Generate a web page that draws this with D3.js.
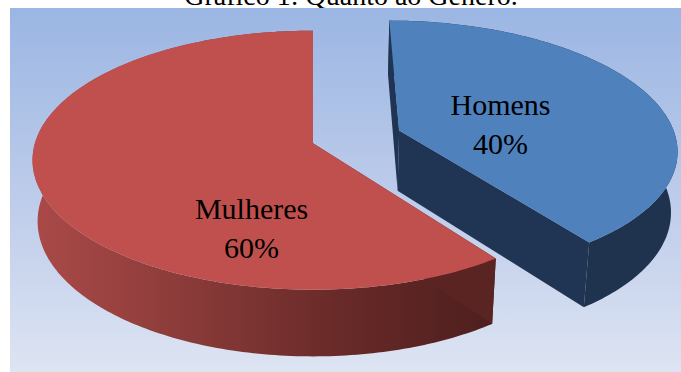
<!DOCTYPE html>
<html>
<head>
<meta charset="utf-8">
<script src="https://cdn.jsdelivr.net/npm/d3@7"></script>
<style>
  html, body { margin: 0; padding: 0; background: #ffffff; }
  svg { display: block; }
</style>
</head>
<body>
<script>
// Chart data
const categories = ["Homens", "Mulheres"];
const values = [40, 60];
const percentLabels = ["40%", "60%"];
const title = "Gráfico 1: Quanto ao Gênero.";

const W = 681, H = 372;
const svg = d3.select("body").append("svg").attr("width", W).attr("height", H);
const defs = svg.append("defs");

// Plot-area background gradient
const bg = defs.append("linearGradient").attr("id", "bg")
  .attr("x1", 0).attr("y1", 0).attr("x2", 0).attr("y2", 1);
bg.append("stop").attr("offset", 0).attr("stop-color", "#9bb6e3");
bg.append("stop").attr("offset", 0.5).attr("stop-color", "#bccbea");
bg.append("stop").attr("offset", 1).attr("stop-color", "#dde4f3");

// Side-wall shading for the red slice (light on the left, dark on the right)
const redSide = defs.append("linearGradient").attr("id", "redSide")
  .attr("gradientUnits", "userSpaceOnUse")
  .attr("x1", 30).attr("y1", 0).attr("x2", 490).attr("y2", 0);
redSide.append("stop").attr("offset", 0).attr("stop-color", "#ab4a48");
redSide.append("stop").attr("offset", 0.3).attr("stop-color", "#8e3d3b");
redSide.append("stop").attr("offset", 0.65).attr("stop-color", "#6a2b29");
redSide.append("stop").attr("offset", 1).attr("stop-color", "#4e1f1e");

// Title (sits above the plot area, mostly hidden by it)
svg.append("text")
  .attr("x", 351).attr("y", 5)
  .attr("text-anchor", "middle")
  .attr("font-family", "'Liberation Serif', 'Times New Roman', serif")
  .attr("font-size", 28)
  .attr("fill", "#000")
  .text(title);

svg.append("rect").attr("x", 10).attr("y", 8).attr("width", W - 10).attr("height", H - 8)
  .attr("fill", "url(#bg)");

// Perspective camera for the 3D pie
const cam = { cx: 313, cy: 204, f: 1860, D: 6.81, phi: 29.1 * Math.PI / 180 };
const thick = 0.25;
const sinP = Math.sin(cam.phi), cosP = Math.cos(cam.phi);
function project(x, y, z) {
  const d = cam.D - (y * sinP + z * cosP);
  const v = y * cosP - z * sinP;
  return [cam.cx + cam.f * x / d, cam.cy - cam.f * v / d];
}

const styles = {
  Homens:   { top: "#4f81bd", side: "#1f324e", radial: "#203553", explode: 0.33,
              labelR: 0.4, labelDy: 0 },
  Mulheres: { top: "#c0504d", side: "url(#redSide)", radial: "#5a2422", explode: 0,
              labelR: 0.23, labelDy: 67 }
};

const pie = d3.pie().sort(null).value(d => d.value).startAngle(0).endAngle(2 * Math.PI);
const data = categories.map((c, i) => ({ name: c, value: values[i], pct: percentLabels[i] }));
const arcs = pie(data);

const line = d3.line();
const step = Math.PI / 180;

function rimPoints(a0, a1, ox, oz, y) {
  const n = Math.max(2, Math.ceil((a1 - a0) / step));
  return d3.range(n + 1).map(k => {
    const a = a0 + (a1 - a0) * k / n;
    return project(ox + Math.sin(a), y, oz - Math.cos(a));
  });
}

const g = svg.append("g");
arcs.forEach(arc => {
  const s = styles[arc.data.name];
  const mid = (arc.startAngle + arc.endAngle) / 2;
  const ox = s.explode * Math.sin(mid), oz = -s.explode * Math.cos(mid);
  const a0 = arc.startAngle, a1 = arc.endAngle;
  const topRim = rimPoints(a0, a1, ox, oz, thick);
  const botRim = rimPoints(a0, a1, ox, oz, 0);
  const apexTop = project(ox, thick, oz), apexBot = project(ox, 0, oz);

  const sg = g.append("g").attr("class", "slice");
  // outer wall
  sg.append("path").attr("d", line(topRim.concat(botRim.slice().reverse())) + "Z")
    .attr("fill", s.side);
  // radial walls
  [a0, a1].forEach((a, i) => {
    const tr = i === 0 ? topRim[0] : topRim[topRim.length - 1];
    const br = i === 0 ? botRim[0] : botRim[botRim.length - 1];
    sg.append("path").attr("d", line([apexTop, tr, br, apexBot]) + "Z")
      .attr("fill", s.radial);
  });
  // top face
  sg.append("path").attr("d", line([apexTop].concat(topRim)) + "Z")
    .attr("fill", s.top);

  // label
  const lp = project(ox + s.labelR * Math.sin(mid), thick, oz - s.labelR * Math.cos(mid));
  const t = sg.append("text")
    .attr("x", lp[0]).attr("y", lp[1] + s.labelDy)
    .attr("text-anchor", "middle")
    .attr("font-family", "'Liberation Serif', 'Times New Roman', serif")
    .attr("font-size", 30)
    .attr("fill", "#000");
  t.append("tspan").attr("x", lp[0]).attr("dy", 0).text(arc.data.name);
  t.append("tspan").attr("x", lp[0]).attr("dy", "1.3em").text(arc.data.pct);
});
</script>
</body>
</html>
